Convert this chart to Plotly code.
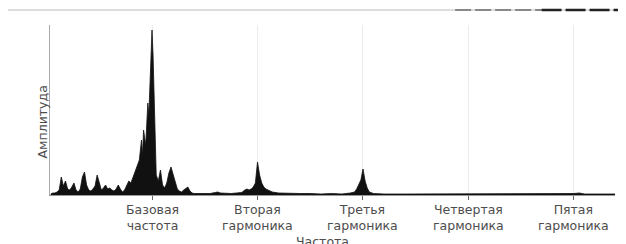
import plotly.graph_objects as go

# Frequency in units of the fundamental (1 = base frequency)
freq = [0.04, 0.06, 0.08, 0.10, 0.12, 0.14, 0.16, 0.18, 0.20, 0.22, 0.24, 0.26, 0.28, 0.30,
        0.32, 0.34, 0.36, 0.38, 0.40, 0.42, 0.44, 0.46, 0.48, 0.50, 0.52, 0.54, 0.56, 0.58,
        0.60, 0.62, 0.64, 0.66, 0.68, 0.70, 0.72, 0.74, 0.76, 0.78, 0.80, 0.82, 0.84, 0.86,
        0.88, 0.90, 0.91, 0.92, 0.94, 0.95, 0.96, 0.97, 0.98, 0.99, 1.00, 1.01, 1.02, 1.03,
        1.04, 1.06, 1.08, 1.10, 1.12, 1.14, 1.16, 1.18, 1.20, 1.22, 1.24, 1.26, 1.28, 1.30,
        1.32, 1.34, 1.36, 1.38, 1.40, 1.45, 1.50, 1.55, 1.60, 1.62, 1.65, 1.70, 1.75, 1.80,
        1.85, 1.88, 1.90, 1.92, 1.94, 1.96, 1.98, 2.00, 2.02, 2.04, 2.06, 2.08, 2.10, 2.14,
        2.20, 2.30, 2.40, 2.50, 2.60, 2.70, 2.80, 2.88, 2.92, 2.94, 2.96, 2.98, 3.00, 3.02,
        3.04, 3.06, 3.10, 3.20, 3.40, 3.60, 3.80, 4.00, 4.20, 4.40, 4.60, 4.80, 5.00, 5.05,
        5.10, 5.30, 5.39]
amplitude = [1, 2, 2, 3, 5, 18, 9, 14, 6, 5, 8, 12, 5, 3,
             6, 18, 23, 10, 5, 4, 6, 9, 20, 12, 5, 7, 10, 6,
             7, 5, 4, 6, 10, 6, 3, 5, 9, 14, 12, 18, 22, 30,
             35, 55, 40, 65, 50, 70, 92, 80, 110, 135, 165, 140, 100, 45,
             20, 14, 25, 10, 7, 12, 22, 28, 20, 12, 6, 4, 3, 5,
             7, 8, 4, 2, 1.5, 1.5, 2, 1.5, 2.5, 3, 2, 1.5, 1.5, 2,
             2.5, 5, 6, 5, 6, 8, 12, 33, 20, 12, 8, 6, 5, 3,
             2, 1.5, 1.5, 1.5, 1, 1.5, 1, 2, 3, 6, 10, 15, 26, 14,
             7, 3, 1.5, 1, 1, 1, 1, 1, 1, 1, 1, 1, 1.5, 2,
             1, 1, 1]

harmonic_pos = [1, 2, 3, 4, 5]
tick_labels = ["Базовая<br>частота", "Вторая<br>гармоника", "Третья<br>гармоника",
               "Четвертая<br>гармоника", "Пятая<br>гармоника"]
x_title = "Частота"
y_title = "Амплитуда"

fig = go.Figure()
fig.add_trace(go.Scatter(x=freq, y=amplitude, mode="lines", fill="tozeroy",
                         line=dict(color="#111111", width=0.8),
                         fillcolor="#111111", hoverinfo="skip", showlegend=False))

FONT = "DejaVu Sans, sans-serif"
TXT = "#4d4d4d"
annotations = []
for p, t in zip(harmonic_pos, tick_labels):
    annotations.append(dict(x=p, y=-0.03, xref="x", yref="paper", text=t, showarrow=False,
                            yanchor="top", align="center",
                            font=dict(family=FONT, size=12.5, color=TXT)))
annotations.append(dict(x=0.483, y=-0.215, xref="paper", yref="paper", text=x_title,
                        showarrow=False, yanchor="top",
                        font=dict(family=FONT, size=12.5, color=TXT)))
annotations.append(dict(x=-0.030, y=0.43, xref="paper", yref="paper", text=y_title,
                        showarrow=False, textangle=-90,
                        font=dict(family=FONT, size=12.5, color=TXT)))

shapes = [
    dict(type="line", xref="paper", yref="paper", x0=-0.08, x1=1.02, y0=1.088, y1=1.088,
         line=dict(color="#dddddd", width=2)),
    dict(type="line", xref="paper", yref="paper", x0=0.717, x1=0.87, y0=1.088, y1=1.088,
         line=dict(color="#888888", width=2, dash="16px,4px")),
    dict(type="line", xref="paper", yref="paper", x0=0.87, x1=1.02, y0=1.088, y1=1.088,
         line=dict(color="#222222", width=2.5, dash="20px,4px")),
]

fig.update_layout(
    width=626, height=244,
    margin=dict(l=42, r=19, t=17, b=57),
    paper_bgcolor="white", plot_bgcolor="white",
    annotations=annotations, shapes=shapes,
    xaxis=dict(range=[0.033, 5.389], tickvals=harmonic_pos, showticklabels=False,
               ticks="outside", ticklen=4, tickcolor="#666666",
               showgrid=True, gridcolor="#ececec", gridwidth=1,
               showline=True, linecolor="#999999", linewidth=1, zeroline=False),
    yaxis=dict(range=[0, 170], showticklabels=False, ticks="", showgrid=False,
               showline=True, linecolor="#aaaaaa", linewidth=1, zeroline=False),
)

fig.write_html("out.html")
